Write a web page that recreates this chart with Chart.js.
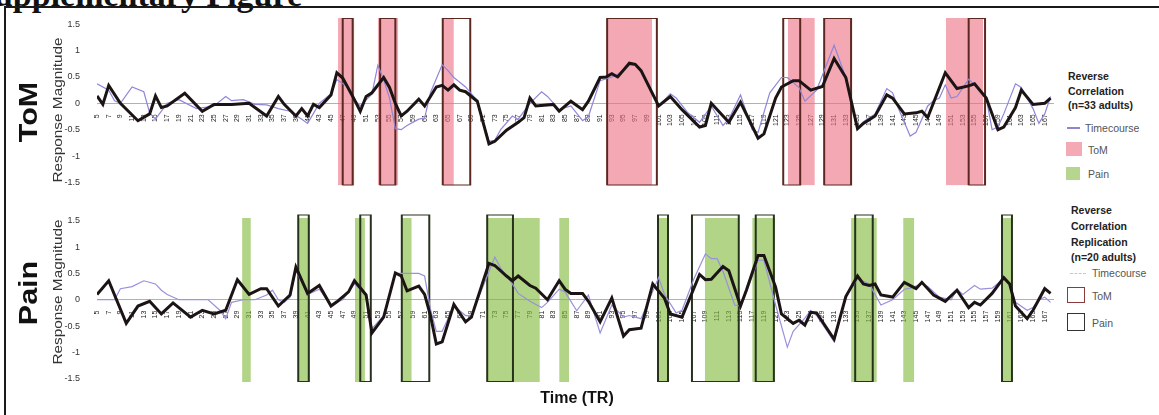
<!DOCTYPE html>
<html><head><meta charset="utf-8">
<script src="https://cdn.jsdelivr.net/npm/chart.js@4.4.0/dist/chart.umd.min.js"></script>
<style>
body{margin:0;width:1159px;height:415px;overflow:hidden;background:#fff;font-family:"Liberation Sans",Arial,sans-serif;position:relative}
.abs{position:absolute;white-space:nowrap}
#frame{left:4px;top:6px;width:1175px;height:420px;border:2px solid #1a1a1a;box-sizing:border-box}
#title{left:-25px;top:-22px;font:bold 34px/34px "Liberation Serif",serif;color:#111}
.rot{transform:translate(-50%,-50%) rotate(-90deg) scaleX(1.22)}
.big{font-weight:bold;font-size:25px;line-height:25px;color:#111}
.ytitle{font-size:12px;line-height:12px;color:#333;transform:translate(-50%,-50%) rotate(-90deg) scaleX(1.28)}
canvas{position:absolute;left:0}
.lb{font-weight:bold;font-size:10.5px;color:#222}
.lt{font-size:10.5px;color:#555}
.c{transform:translateY(-50%)}
#xt{font-weight:bold;font-size:16px;color:#111;transform:translate(-50%,-50%)}
</style></head>
<body>
<div id="title" class="abs">Supplementary Figure</div>
<div id="frame" class="abs"></div>
<canvas id="top" width="1060" height="200" style="top:0"></canvas>
<canvas id="bot" width="1060" height="200" style="top:200px"></canvas>

<div class="abs big rot" style="left:28px;top:112px">ToM</div>
<div class="abs big rot" style="left:28px;top:293px">Pain</div>
<div class="abs ytitle" style="left:58px;top:110px">Response Magnitude</div>
<div class="abs ytitle" style="left:58px;top:292px">Response Magnitude</div>
<div id="xt" class="abs" style="left:577px;top:398px">Time (TR)</div>

<!-- top legend -->
<div class="abs lb c" style="left:1068px;top:76px">Reverse</div>
<div class="abs lb c" style="left:1068px;top:91px">Correlation</div>
<div class="abs lb c" style="left:1068px;top:105px">(n=33 adults)</div>
<div class="abs" style="left:1067px;top:127px;width:13px;height:2px;background:#8f86d0"></div>
<div class="abs lt c" style="left:1085px;top:128px">Timecourse</div>
<div class="abs" style="left:1066px;top:142px;width:16px;height:14px;background:#f4aab4"></div>
<div class="abs lt c" style="left:1088px;top:150px">ToM</div>
<div class="abs" style="left:1066px;top:167px;width:14px;height:13px;background:#b6d690"></div>
<div class="abs lt c" style="left:1088px;top:174px">Pain</div>

<!-- bottom legend -->
<div class="abs lb c" style="left:1071px;top:210px">Reverse</div>
<div class="abs lb c" style="left:1071px;top:226px">Correlation</div>
<div class="abs lb c" style="left:1071px;top:242px">Replication</div>
<div class="abs lb c" style="left:1071px;top:257px">(n=20 adults)</div>
<div class="abs" style="left:1070px;top:273px;width:16px;height:0;border-top:1px dashed #c8c4e0"></div>
<div class="abs lt c" style="left:1092px;top:273px">Timecourse</div>
<div class="abs" style="left:1067px;top:287px;width:18px;height:16px;border:1.5px solid #8a3a3a;box-sizing:border-box"></div>
<div class="abs lt c" style="left:1092px;top:296px">ToM</div>
<div class="abs" style="left:1067px;top:313px;width:18px;height:18px;border:1.5px solid #333;box-sizing:border-box"></div>
<div class="abs lt c" style="left:1092px;top:323px">Pain</div>

<script>
// ---------- data ----------
const xTickValues = [];
for (let t = 5; t <= 167; t += 2) xTickValues.push(t);
const yTickValues = [-1.5, -1, -0.5, 0, 0.5, 1, 1.5];
const yTickLabels = ["-1.5", "-1", "-0.5", "0", "0.5", "1", "1.5"];

// [TR, value]
const tomMain = [[5,0.14],[6,-0.02],[7,0.34],[9,0.0],[12,-0.33],[14,-0.2],[15,0.14],[16,-0.08],[17,-0.05],[20,0.19],
[23,-0.15],[25,-0.02],[28,-0.02],[31,0.0],[34,-0.24],[36,0.13],[37,-0.02],[39,-0.24],[40,-0.1],[41,-0.24],
[42,-0.02],[43,-0.08],[45,0.16],[46,0.58],[47,0.48],[49,0.07],[50,-0.15],[51,0.13],[52,0.2],[54,0.49],
[55,0.3],[56,0.0],[57,-0.24],[58,-0.15],[60,0.08],[61,-0.05],[63,0.31],[64,0.34],[65,0.25],[66,0.35],
[67,0.25],[68,0.22],[70,0.04],[72,-0.77],[73,-0.72],[75,-0.51],[77,-0.36],[78,-0.27],[79,0.1],[80,-0.05],
[83,-0.02],[84,-0.15],[86,0.04],[88,-0.12],[89,0.04],[91,0.49],[92,0.5],[93,0.56],[94,0.5],[96,0.76],
[97,0.74],[98,0.62],[101,-0.05],[103,0.13],[105,-0.12],[108,-0.45],[109,-0.42],[110,0.0],[113,-0.36],[115,0.02],
[118,-0.66],[119,-0.58],[121,0.1],[122,0.31],[124,0.43],[125,0.43],[127,0.25],[129,0.32],[131,0.85],[133,0.49],
[135,-0.48],[136,-0.38],[138,-0.24],[140,0.16],[141,0.1],[143,-0.2],[145,-0.18],[146,-0.15],[147,-0.27],[150,0.58],
[152,0.28],[154,0.33],[155,0.37],[157,0.1],[159,-0.5],[160,-0.45],[162,-0.08],[163,0.25],[165,-0.02],[167,0.0],[168,0.1]];

const tomThin = [[5,0.37],[7,0.25],[8,0.05],[9,0.0],[11,0.31],[13,0.22],[14,-0.18],[15,-0.3],[17,0.0],[19,0.07],
[22,-0.1],[25,-0.05],[27,0.13],[28,0.05],[30,0.07],[32,-0.02],[34,-0.03],[36,-0.1],[38,-0.15],[40,-0.3],
[41,-0.38],[43,0.0],[45,0.18],[46,0.45],[48,0.3],[49,0.07],[50,-0.05],[52,0.18],[53,0.72],[54,0.45],
[55,0.1],[56,-0.48],[57,-0.5],[58,-0.42],[60,-0.3],[61,-0.28],[62,0.2],[64,0.73],[65,0.62],[66,0.49],
[67,0.4],[68,0.31],[70,0.05],[72,-0.72],[73,-0.7],[74,-0.5],[76,-0.24],[77,-0.3],[79,0.0],[81,0.22],
[82,0.13],[84,-0.12],[86,-0.05],[88,-0.33],[89,-0.25],[91,0.43],[93,0.5],[94,0.55],[96,0.72],[97,0.72],
[98,0.6],[101,-0.05],[103,0.18],[104,0.1],[106,-0.18],[108,-0.36],[110,-0.05],[112,-0.42],[113,-0.3],[115,0.16],
[117,-0.5],[118,-0.55],[120,0.2],[122,0.49],[123,0.49],[125,0.3],[126,0.04],[128,0.25],[131,1.1],[133,0.49],
[135,-0.48],[136,-0.35],[138,-0.2],[140,0.28],[141,0.2],[142,-0.1],[144,-0.62],[145,-0.55],[147,-0.05],[148,0.05],
[149,0.1],[150,0.35],[151,0.1],[152,0.13],[154,0.46],[155,0.35],[157,0.1],[158,-0.5],[159,-0.45],[160,-0.2],
[162,0.37],[163,0.3],[165,-0.1],[166,-0.38],[167,-0.2],[168,0.13]];

const painMain = [[5,0.1],[7,0.36],[10,-0.45],[12,-0.12],[14,-0.03],[16,-0.27],[18,-0.06],[21,-0.33],[23,-0.2],[25,-0.27],
[27,-0.2],[29,0.38],[31,0.1],[33,0.21],[34,0.21],[36,-0.12],[38,0.09],[39,0.62],[41,0.12],[43,0.27],
[45,-0.12],[46,-0.04],[48,0.15],[49,0.36],[51,0.09],[52,-0.63],[54,-0.33],[56,0.51],[57,0.45],[58,0.17],
[60,0.26],[61,0.1],[62,-0.3],[63,-0.84],[64,-0.8],[66,-0.09],[68,-0.42],[69,-0.33],[72,0.69],[73,0.65],
[75,0.45],[76,0.36],[77,0.45],[79,0.27],[80,0.22],[82,0.0],[84,0.36],[85,0.2],[86,0.12],[88,0.12],
[89,-0.03],[91,-0.42],[93,0.03],[95,-0.69],[96,-0.57],[98,-0.54],[100,0.3],[102,0.03],[103,-0.27],[105,-0.33],
[108,0.48],[109,0.38],[110,0.39],[112,0.63],[113,0.55],[115,-0.12],[116,0.18],[118,0.84],[119,0.84],[121,0.24],
[122,-0.27],[124,-0.45],[125,-0.39],[126,-0.48],[127,-0.24],[128,-0.25],[131,-0.75],[133,0.06],[135,0.45],[136,0.3],
[137,0.27],[138,0.3],[139,0.09],[141,0.05],[143,0.33],[145,0.21],[146,0.33],[148,0.09],[150,-0.03],[152,0.18],
[154,-0.15],[155,-0.05],[156,-0.1],[158,0.12],[160,0.42],[161,0.3],[162,-0.12],[164,-0.36],[165,-0.2],[167,0.21],[168,0.12]];

const painThin = [[5,0.0],[8,0.0],[9,0.21],[11,0.25],[13,0.36],[15,0.3],[16,0.18],[17,0.1],[19,0.0],[22,0.0],
[24,0.0],[26,-0.2],[27,-0.36],[28,-0.05],[30,0.0],[32,0.0],[34,0.09],[35,0.18],[36,0.0],[37,-0.05],
[38,0.05],[39,0.55],[41,0.1],[43,0.2],[45,-0.1],[47,0.0],[49,0.3],[51,0.1],[52,-0.55],[54,-0.3],
[56,0.5],[58,0.5],[60,0.5],[61,0.45],[62,-0.18],[63,-0.6],[64,-0.6],[66,-0.12],[68,-0.3],[69,-0.3],
[73,0.81],[74,0.6],[76,0.3],[77,0.12],[79,-0.03],[81,-0.15],[82,-0.05],[84,0.2],[85,0.15],[87,-0.21],
[89,0.09],[91,-0.63],[93,-0.1],[95,-0.33],[96,-0.3],[98,-0.36],[101,0.42],[102,0.1],[104,-0.25],[105,-0.2],
[107,0.39],[109,0.87],[110,0.78],[111,0.78],[112,0.54],[114,-0.1],[115,-0.12],[116,0.15],[118,0.75],[119,0.75],
[121,-0.1],[123,-0.9],[124,-0.6],[126,-0.35],[127,-0.2],[128,-0.3],[131,-0.8],[133,0.06],[135,0.4],[136,0.35],
[137,0.3],[139,-0.1],[141,0.0],[143,0.2],[144,0.22],[146,0.3],[147,0.25],[149,0.05],[151,0.0],[152,0.2],
[153,0.1],[155,0.27],[156,0.2],[158,0.22],[160,0.4],[161,0.3],[162,-0.05],[164,-0.2],[165,-0.15],[166,0.0],[167,0.05],[168,-0.05]];

// intervals [startTR, endTR]
const tomFills = [[46.2,49],[53,56.5],[64.1,66],[92.2,99.9],[123.1,127.7],[129.3,133.9],[150.1,156.5]];
const tomBoxes = [[47,48.7],[53.4,56],[64.1,68.8],[92.2,100.7],[122.3,125.2],[129.3,133.9],[154,156.8]];
const painFills = [[29.8,31.3],[39.4,41.4],[49.1,50.8],[57.1,58.8],[71.7,80.7],[84,85.7],[100.9,102.6],[108.9,114.6],[117,120.9],[133.9,138.3],[142.8,144.7],[159.7,161.4]];
const painBoxes = [[39.4,41.2],[50,51.8],[57.1,61.8],[71.7,76.1],[100.9,102.6],[106.7,114.7],[117.6,120.7],[134.6,137.6],[159.7,161.4]];

// ---------- drawing ----------
const FONT = '"Liberation Sans", Arial, sans-serif';
const toPts = arr => arr.map(p => ({x: p[0], y: p[1]}));

function build(id, main, thin, fills, boxes, st) {
  const ds = [];
  ds.push({data: toPts(main), borderColor: '#1c1414', borderWidth: 3, pointRadius: 0, fill: false, order: 1});
  ds.push({data: toPts(thin), borderColor: st.thinColor, borderWidth: 1.2, pointRadius: 0, fill: false, order: 2});
  boxes.forEach(b => ds.push({
    data: [{x:b[0],y:st.boxBot},{x:b[0],y:st.boxTop},{x:b[1],y:st.boxTop},{x:b[1],y:st.boxBot},{x:b[0],y:st.boxBot}],
    borderColor: st.boxColor, borderWidth: 2, pointRadius: 0, fill: false, order: 3
  }));
  fills.forEach(f => ds.push({
    data: [{x:f[0],y:st.fillTop},{x:f[1],y:st.fillTop}],
    borderWidth: 0, borderColor: 'rgba(0,0,0,0)', backgroundColor: st.fillColor,
    pointRadius: 0, fill: {value: st.fillBot}, order: 4
  }));
  new Chart(document.getElementById(id), {
    type: 'line',
    data: {datasets: ds},
    options: {
      responsive: false, animation: false, devicePixelRatio: 1,
      layout: {padding: {left: 60, right: 6.5, top: st.padTop, bottom: st.padBot}},
      plugins: {legend: {display: false}, tooltip: {enabled: false}},
      elements: {line: {tension: 0}},
      scales: {
        x: {
          type: 'linear', min: 5, max: 168.5, position: {y: 0},
          grid: {display: false},
          border: {display: true, color: '#aeaec8', dash: [4, 3], width: 1},
          afterBuildTicks: ax => { ax.ticks = xTickValues.map(v => ({value: v})); },
          ticks: {autoSkip: false, minRotation: 90, maxRotation: 90, padding: 3,
                  font: {size: 7, family: FONT}, color: '#222', callback: v => String(v)}
        },
        y: {
          type: 'linear', min: -1.56, max: 1.62,
          grid: {display: false}, border: {display: false},
          afterBuildTicks: ax => { ax.ticks = yTickValues.map(v => ({value: v})); },
          afterFit: ax => { ax.width = 37; },
          ticks: {padding: 9, font: {size: 9, family: FONT}, color: '#333',
                  callback: (v, i) => yTickLabels[i]}
        }
      }
    }
  });
}

build('top', tomMain, tomThin, tomFills, tomBoxes, {
  thinColor: '#8f86d8', boxColor: '#5a2820', fillColor: 'rgba(236,110,128,0.6)',
  fillTop: 1.62, fillBot: -1.56, boxTop: 1.62, boxBot: -1.56, padTop: 17.9, padBot: 7.2
});
build('bot', painMain, painThin, painFills, painBoxes, {
  thinColor: '#9a90dc', boxColor: '#26321c', fillColor: 'rgba(130,185,60,0.62)',
  fillTop: 1.55, fillBot: -1.56, boxTop: 1.62, boxBot: -1.56, padTop: 4.8, padBot: 18.1
});
</script>
</body></html>
